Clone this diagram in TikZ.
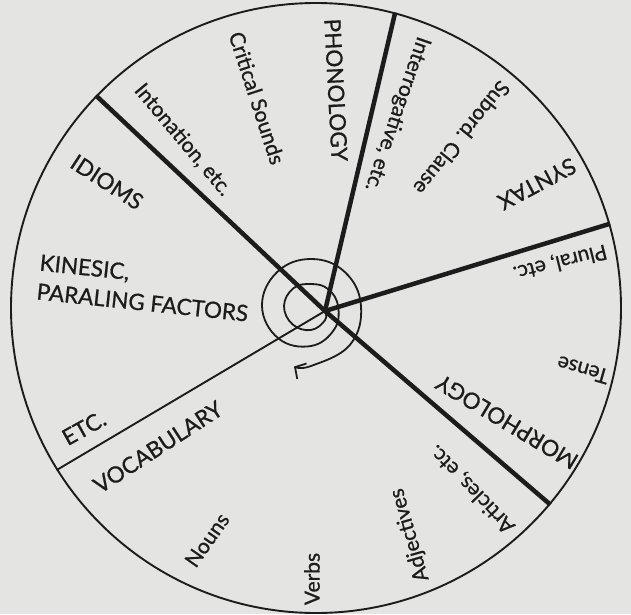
\documentclass[tikz,border=0pt]{standalone}
\usepackage{fontspec}
\setmainfont{Lato}[FakeBold=0.8]
\usetikzlibrary{arrows.meta}

\definecolor{paper}{RGB}{228,228,226}
\definecolor{ink}{RGB}{28,28,28}

\begin{document}
\begin{tikzpicture}[x=1pt,y=1pt,
    capslabel/.style={font=\fontsize{22.5}{29}\selectfont, text=ink, inner sep=0pt},
    smalllabel/.style={font=\fontsize{21}{25}\selectfont, text=ink, inner sep=0pt},
    spoke/.style={draw=ink, line width=4.5pt},
    thinspoke/.style={draw=ink, line width=1.9pt},
    arr/.style={-{Straight Barb[length=8pt,width=18pt]}, draw=ink, line width=1.8pt}
]
\fill[paper] (-316,-306) rectangle (315,308);
\useasboundingbox (-316,-306) rectangle (315,308);

\node[draw=ink, line width=1.9pt, circle, minimum size=610pt, inner sep=0pt] (rim) at (0,0) {};
\coordinate (hub) at (9,-3);

% spokes
\draw[spoke] (hub) -- (rim.136);
\draw[spoke] (hub) -- (rim.75);
\draw[spoke] (hub) -- (rim.16);
\draw[spoke] (hub) -- (rim.-40);
\draw[thinspoke] (hub) -- (rim.212);

% spiral
\draw[arr] plot[smooth, tension=0.7] coordinates {(9,-3) (9.1,-12.1) (-5,-22) (-23.4,-16.4) (-32,2)
    (-22.7,19.7) (-5,24) (12,19) (22,2) (18.3,-21.3) (-5,-38) (-37.5,-30.5) (-54,2)
    (-38.9,35.9) (-5,49) (28.9,35.9) (45,2) (33.9,-36.9) (-5,-58) (-22,-58.5)};

% labels
\node[smalllabel, rotate=-72] (critical) at (-59,210) {Critical Sounds};
\node[smalllabel, rotate=-50] (intonation) at (-133,168) {Intonation, etc.};
\node[capslabel, rotate=-33] (idioms) at (-209,126) {IDIOMS};
\node[capslabel, rotate=-6, align=left] (kinesic) at (-172,20) {KINESIC,\\PARALING FACTORS};
\node[capslabel, rotate=29] (etc) at (-232,-120) {ETC.};
\node[capslabel, rotate=33] (vocab) at (-158,-139) {VOCABULARY};
\node[smalllabel, rotate=55] (nouns) at (-109,-232) {Nouns};
\node[smalllabel, rotate=90] (verbs) at (-4,-271) {Verbs};
\node[capslabel, rotate=-87] (phono) at (20,218) {PHONOLOGY};
\node[smalllabel, rotate=-109] (interrog) at (81,194) {Interrogative, etc.};
\node[smalllabel, rotate=-129] (subord) at (146,170) {Subord. Clause};
\node[capslabel, rotate=-152] (syntax) at (221,124) {SYNTAX};
\node[smalllabel, rotate=-166] (plural) at (244,46) {Plural, etc.};
\node[smalllabel, rotate=164] (tense) at (267,-62) {Tense};
\node[capslabel, rotate=149] (morpho) at (191,-114) {MORPHOLOGY};
\node[smalllabel, rotate=134] (articles) at (156,-181) {Articles, etc.};
\node[smalllabel, rotate=106] (adject) at (94,-227) {Adjectives};
\end{tikzpicture}
\end{document}
